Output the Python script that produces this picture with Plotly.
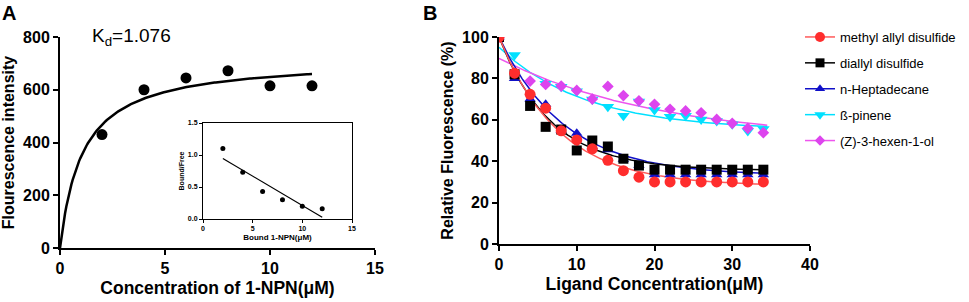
import numpy as np
import plotly.graph_objects as go

W, H = 969, 302
FONT = "Arial, Liberation Sans, sans-serif"

# ---------------- Panel A data ----------------
conc_a = [2, 4, 6, 8, 10, 12]
intensity_a = [430, 600, 645, 672, 615, 615]
kd_a = 1.076
bmax_a = 719

# inset (Scatchard)
bound_inset = [2, 4, 6, 8, 10, 12]
bf_inset = [1.10, 0.73, 0.43, 0.30, 0.20, 0.16]

# ---------------- Panel B data ----------------
x_b = [0, 2, 4, 6, 8, 10, 12, 14, 16, 18, 20, 22, 24, 26, 28, 30, 32, 34]
red_vals = [100, 82.5, 72.3, 65.6, 54.7, 50.3, 46, 40.4, 35.4, 32.3, 30, 30, 30, 30, 30, 30, 30, 30]
black_vals = [100, 82, 66.7, 56.6, 55.3, 45.2, 50, 47.1, 41.2, 37.9, 35.9, 35.9, 35.9, 35.9, 35.9, 35.9, 35.9, 35.9]
blue_vals = [100, 80, 70.1, 67.5, 55, 53.5, 47, 45.5, 41, 38, 33.5, 33.5, 33.5, 33.5, 33.5, 33.5, 33.5, 33.5]
x_cyan = [0, 2, 6, 8, 10, 12, 14, 16, 18, 20, 22, 24, 26, 28, 30, 32, 34]
cyan_vals = [100, 91.3, 77.4, 76, 73.8, 69.8, 66.3, 62, 68.8, 64.7, 61.5, 62, 60.2, 59.4, 57.8, 54.6, 55.6]
x_mag = [0, 4, 6, 8, 10, 12, 14, 16, 18, 20, 22, 24, 26, 28, 30, 32, 34]
mag_vals = [100, 78.7, 77.1, 76.3, 74.2, 70, 76.1, 71.7, 69.2, 67.5, 65.1, 64.3, 63.4, 60.2, 58.3, 55.9, 53.8]

series_names = ["methyl allyl disulfide", "diallyl disulfide", "n-Heptadecane", "ß-pinene", "(Z)-3-hexen-1-ol"]
# one-phase decay fit parameters (plateau, span, k)
fit_params = {
    "methyl allyl disulfide": (28, 72, 0.13),
    "diallyl disulfide": (35.5, 64.5, 0.15),
    "n-Heptadecane": (33, 67, 0.12),
    "ß-pinene": (55, 40, 0.09),
    "(Z)-3-hexen-1-ol": (50, 39.7, 0.0487),
}

def px_x(p):
    return p / W

def px_y(p):
    return (H - p) / H

fig = go.Figure()

# ---- Panel A ----
xc = np.linspace(0, 12, 200)
fig.add_trace(go.Scatter(x=xc, y=bmax_a * xc / (kd_a + xc), mode="lines",
                         line=dict(color="black", width=2.5), showlegend=False,
                         xaxis="x", yaxis="y"))
fig.add_trace(go.Scatter(x=conc_a, y=intensity_a, mode="markers",
                         marker=dict(color="black", size=11, symbol="circle"),
                         showlegend=False, xaxis="x", yaxis="y"))

# inset
slope, intercept = np.polyfit(bound_inset, bf_inset, 1)
xl = np.array([2, 12])
fig.add_trace(go.Scatter(x=xl, y=slope * xl + intercept, mode="lines",
                         line=dict(color="black", width=1.2), showlegend=False,
                         xaxis="x3", yaxis="y3"))
fig.add_trace(go.Scatter(x=bound_inset, y=bf_inset, mode="markers",
                         marker=dict(color="black", size=5), showlegend=False,
                         xaxis="x3", yaxis="y3"))

# ---- Panel B ----
styles = {
    "methyl allyl disulfide": dict(mc="#FF2D2D", lc="#FF5A5A", sym="circle", size=11),
    "diallyl disulfide": dict(mc="#000000", lc="#000000", sym="square", size=10),
    "n-Heptadecane": dict(mc="#1010C8", lc="#1010C8", sym="triangle-up", size=10),
    "ß-pinene": dict(mc="#00E0FF", lc="#00E0FF", sym="triangle-down", size=11),
    "(Z)-3-hexen-1-ol": dict(mc="#DD44EE", lc="#EE55EE", sym="diamond", size=9),
}
data_b = {
    "methyl allyl disulfide": (x_b, red_vals),
    "diallyl disulfide": (x_b, black_vals),
    "n-Heptadecane": (x_b, blue_vals),
    "ß-pinene": (x_cyan, cyan_vals),
    "(Z)-3-hexen-1-ol": (x_mag, mag_vals),
}
draw_order = ["ß-pinene", "(Z)-3-hexen-1-ol", "n-Heptadecane", "diallyl disulfide", "methyl allyl disulfide"]
xf = np.linspace(0, 34.5, 200)
for name in draw_order:
    P, S, k = fit_params[name]
    st = styles[name]
    fig.add_trace(go.Scatter(x=xf, y=P + S * np.exp(-k * xf), mode="lines",
                             line=dict(color=st["lc"], width=1.5), showlegend=False,
                             xaxis="x2", yaxis="y2"))
for name in draw_order:
    st = styles[name]
    xs, ys = data_b[name]
    fig.add_trace(go.Scatter(x=xs, y=ys, mode="markers",
                             marker=dict(color=st["mc"], size=st["size"], symbol=st["sym"]),
                             showlegend=False, xaxis="x2", yaxis="y2"))
# legend entries
for i, name in enumerate(series_names):
    st = styles[name]
    fig.add_trace(go.Scatter(x=[None], y=[None], mode="lines+markers", name=name,
                             legendgroup=str(i),
                             marker=dict(color=st["mc"], size=st["size"] - 1, symbol=st["sym"]),
                             line=dict(color=st["lc"], width=1.5),
                             xaxis="x2", yaxis="y2"))

tickfont = dict(family=FONT, size=16, color="black", weight="bold")
xtitlefont = dict(family=FONT, size=17.5, color="black", weight="bold")
ytitlefont = dict(family=FONT, size=16, color="black", weight="bold")
ax_common = dict(showline=True, linecolor="black", linewidth=2, ticks="outside",
                 ticklen=5, tickwidth=2, tickcolor="black", showgrid=False,
                 zeroline=False, tickfont=tickfont, fixedrange=True, automargin=False)
inset_font = dict(family=FONT, size=7, color="black", weight="bold")
inset_common = dict(showline=True, linecolor="black", linewidth=1, mirror=True,
                    ticks="outside", ticklen=3, tickwidth=1, tickcolor="black",
                    showgrid=False, zeroline=False, tickfont=inset_font, automargin=False)

fig.update_layout(
    width=W, height=H,
    margin=dict(l=0, r=0, t=0, b=0, autoexpand=False),
    paper_bgcolor="white", plot_bgcolor="rgba(0,0,0,0)",
    font=dict(family=FONT, color="black"),
    xaxis=dict(domain=[px_x(60), px_x(375)], range=[0, 15], anchor="y",
               tickvals=[0, 5, 10, 15],
               title=dict(text="Concentration of 1-NPN(μM)", font=xtitlefont, standoff=6),
               **ax_common),
    yaxis=dict(domain=[px_y(248), px_y(37)], range=[0, 800], anchor="x",
               tickvals=[0, 200, 400, 600, 800],
               title=dict(text="Flourescence intensity", font=ytitlefont, standoff=4),
               **ax_common),
    xaxis2=dict(domain=[px_x(499), px_x(810)], range=[0, 40], anchor="y2",
                tickvals=[0, 10, 20, 30, 40],
                title=dict(text="Ligand Concentration(μM)", font=xtitlefont, standoff=6),
                **ax_common),
    yaxis2=dict(domain=[px_y(244), px_y(37)], range=[0, 100], anchor="x2",
                tickvals=[0, 20, 40, 60, 80, 100],
                title=dict(text="Relative Fluorescence (%)", font=ytitlefont, standoff=4),
                **ax_common),
    xaxis3=dict(domain=[px_x(203), px_x(352)], range=[0, 15], anchor="y3",
                tickvals=[0, 5, 10, 15],
                title=dict(text="Bound 1-NPN(μM)", font=dict(family=FONT, size=8, color="black", weight="bold"), standoff=2),
                **inset_common),
    yaxis3=dict(domain=[px_y(219), px_y(123)], range=[0, 1.5], anchor="x3",
                tickvals=[0, 0.5, 1.0, 1.5], tickformat=".1f",
                title=dict(text="Bound/Free", font=dict(family=FONT, size=7, color="black", weight="bold"), standoff=2),
                **inset_common),
    legend=dict(x=px_x(800), y=px_y(22), xanchor="left", yanchor="top",
                font=dict(family=FONT, size=13, color="black"),
                bgcolor="rgba(0,0,0,0)", tracegroupgap=6, traceorder="grouped",
                itemwidth=30),
    annotations=[
        dict(text="<b>A</b>", x=px_x(0), y=px_y(0), xref="paper", yref="paper",
             xanchor="left", yanchor="top", showarrow=False,
             font=dict(family=FONT, size=20, color="black")),
        dict(text="<b>B</b>", x=px_x(421), y=px_y(0), xref="paper", yref="paper",
             xanchor="left", yanchor="top", showarrow=False,
             font=dict(family=FONT, size=20, color="black")),
        dict(text="K<sub>d</sub>=1.076", x=px_x(90), y=px_y(37), xref="paper", yref="paper",
             xanchor="left", yanchor="middle", showarrow=False,
             font=dict(family=FONT, size=19, color="black")),
    ],
)

fig.write_html("out.html", config={"displayModeBar": False, "staticPlot": True},
               post_script="document.body.style.margin='0px';document.body.style.padding='0px';")
